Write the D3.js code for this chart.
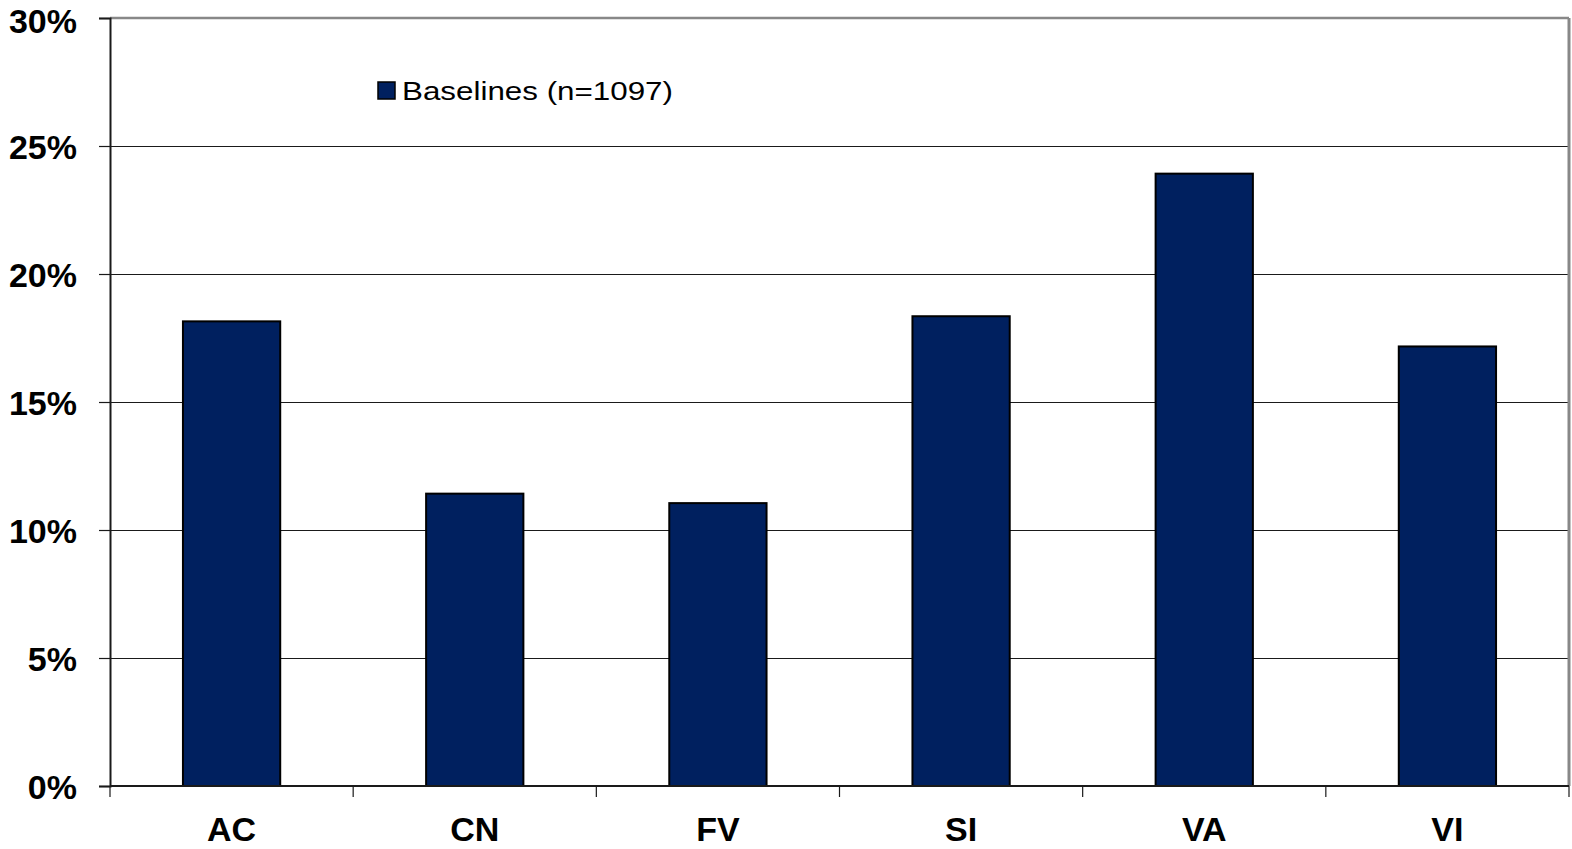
<!DOCTYPE html>
<html>
<head>
<meta charset="utf-8">
<script src="https://cdn.jsdelivr.net/npm/d3@7"></script>
<style>
  html, body { margin: 0; padding: 0; background: #fff; }
  svg { display: block; }
</style>
</head>
<body>
<svg id="chart" width="1572" height="849"></svg>
<script>
// Share of baseline cases per category
const categories = ["AC", "CN", "FV", "SI", "VA", "VI"];
const values = [18.15, 11.42, 11.05, 18.35, 23.92, 17.17];
const yTicks = [0, 5, 10, 15, 20, 25, 30];
const seriesName = "Baselines (n=1097)";

const svg = d3.select("#chart");
const margin = { left: 110, right: 3, top: 18, bottom: 63 };
const W = 1572, H = 849;
const innerW = W - margin.left - margin.right;
const innerH = H - margin.top - margin.bottom;
const font = "Liberation Sans, Arial, sans-serif";

const g = svg.append("g").attr("transform", `translate(${margin.left},${margin.top})`);

const x = d3.scaleBand().domain(categories).range([0, innerW]).paddingInner(0.6).paddingOuter(0.3);
const xOuter = d3.scaleBand().domain(categories).range([0, innerW]);
const y = d3.scaleLinear().domain([0, 30]).range([innerH, 0]);

// horizontal gridlines
g.selectAll("line.grid")
  .data(yTicks.filter(t => t > 0 && t < 30))
  .join("line")
  .attr("class", "grid")
  .attr("x1", 0).attr("x2", innerW)
  .attr("y1", d => Math.round(y(d)) + 0.5).attr("y2", d => Math.round(y(d)) + 0.5)
  .attr("stroke", "#1a1a1a").attr("stroke-width", 1)
  .attr("shape-rendering", "crispEdges");

// plot-area frame: top and right edges
g.append("line").attr("x1", 0).attr("x2", innerW).attr("y1", y(30)).attr("y2", y(30))
  .attr("stroke", "#888").attr("stroke-width", 2.5);
g.append("line").attr("x1", innerW).attr("x2", innerW).attr("y1", y(30)).attr("y2", innerH)
  .attr("stroke", "#888").attr("stroke-width", 3);

// bars
g.selectAll("rect.bar")
  .data(categories.map((c, i) => ({ c, v: values[i] })))
  .join("rect")
  .attr("class", "bar")
  .attr("x", d => x(d.c))
  .attr("width", x.bandwidth())
  .attr("y", d => y(d.v))
  .attr("height", d => innerH - y(d.v))
  .attr("fill", "#00205f")
  .attr("stroke", "#000")
  .attr("stroke-width", 2);

// y axis
const yAxis = d3.axisLeft(y).tickValues(yTicks).tickFormat(d => d + "%").tickSize(11).tickPadding(22);
const ya = g.append("g").call(yAxis);
ya.select(".domain").attr("stroke", "#1a1a1a").attr("stroke-width", 2);
ya.selectAll(".tick line").attr("stroke", "#1a1a1a").attr("stroke-width", 1.2);
ya.selectAll(".tick text")
  .attr("font-family", font)
  .attr("font-size", 34).attr("font-weight", "bold").attr("fill", "#000")
  .attr("dy", d => d === 30 ? "0.42em" : "0.36em");

// x axis: ticks at category boundaries
const xa = g.append("g").attr("transform", `translate(0,${innerH})`);
xa.append("line").attr("x1", 0).attr("x2", innerW).attr("stroke", "#1a1a1a").attr("stroke-width", 2);
const bounds = categories.map(c => xOuter(c)).concat([innerW]);
xa.selectAll("line.tk").data(bounds).join("line").attr("class", "tk")
  .attr("x1", d => d).attr("x2", d => d).attr("y1", 0).attr("y2", 11)
  .attr("stroke", "#1a1a1a").attr("stroke-width", 1.2);
xa.selectAll("text").data(categories).join("text")
  .attr("x", d => xOuter(d) + xOuter.bandwidth() / 2)
  .attr("y", 55)
  .attr("text-anchor", "middle")
  .attr("font-family", font)
  .attr("font-size", 34).attr("font-weight", "bold").attr("fill", "#000")
  .text(d => d);

// legend
const lg = svg.append("g").attr("transform", "translate(378,82)");
lg.append("rect").attr("x", 0).attr("y", 0).attr("width", 17).attr("height", 17)
  .attr("fill", "#00205f").attr("stroke", "#000").attr("stroke-width", 1.5);
lg.append("text").attr("x", 24).attr("y", 18)
  .attr("font-family", font)
  .attr("font-size", 25).attr("fill", "#000")
  .attr("textLength", 271).attr("lengthAdjust", "spacingAndGlyphs")
  .text(seriesName);
</script>
</body>
</html>
